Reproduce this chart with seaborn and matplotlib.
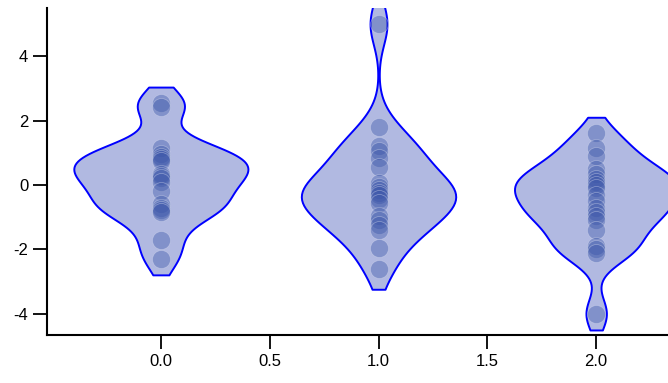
import numpy as np
import pandas as pd
import matplotlib
matplotlib.use("Agg")
import matplotlib.pyplot as plt
import seaborn as sns

# values, one list per group
group0 = [2.55, 2.42, 1.15, 0.95, 0.88, 0.82, 0.75, 0.35, 0.28, 0.22, 0.1,
          -0.2, -0.6, -0.7, -0.78, -0.85, -1.7, -2.3]
group1 = [5.0, 1.8, 1.2, 1.05, 0.85, 0.55, 0.05, -0.05, -0.15, -0.25, -0.3,
          -0.45, -0.55, -0.95, -1.1, -1.25, -1.4, -1.95, -2.6]
group2 = [1.6, 1.15, 0.9, 0.5, 0.35, 0.2, 0.1, 0.0, -0.1, -0.3, -0.5,
          -0.7, -0.85, -0.95, -1.1, -1.4, -1.9, -2.0, -2.1, -4.0]
positions = [0.0, 1.0, 2.0]
xticks = [0.0, 0.5, 1.0, 1.5, 2.0]
yticks = [-4, -2, 0, 2, 4]

rows = []
for pos, vals in zip(positions, [group0, group1, group2]):
    for v in vals:
        rows.append({"x": pos, "y": v})
df = pd.DataFrame(rows)

sns.set_style("ticks")
plt.rcParams['font.family'] = ['Liberation Sans', 'DejaVu Sans']
plt.rcParams['font.size'] = 12
plt.rcParams['axes.unicode_minus'] = False

fig = plt.figure(figsize=(6.68, 3.83), dpi=100)
ax = fig.add_axes([0.0704, 0.1253, 0.9296, 0.854])

sns.violinplot(data=df, x="x", y="y", native_scale=True, inner=None,
               color="#b1b9e1", saturation=1, linecolor="#0000ff",
               linewidth=1.4, cut=1.0, bw_adjust=0.7, width=0.8, ax=ax)
sns.stripplot(data=df, x="x", y="y", native_scale=True, jitter=False,
              size=13, color="#3a55a8", alpha=0.4, edgecolor="#d8ddf0",
              linewidth=0.6, ax=ax)

ax.set_xlim(-0.523, 2.33)
ax.set_ylim(-4.66, 5.5)
ax.set_xticks(xticks)
ax.set_xticklabels(["0.0", "0.5", "1.0", "1.5", "2.0"])
ax.set_yticks(yticks)
ax.set_xlabel("")
ax.set_ylabel("")
sns.despine(ax=ax)
for s in ["left", "bottom"]:
    ax.spines[s].set_linewidth(1.5)
    ax.spines[s].set_color("black")
ax.tick_params(direction="out", length=10, width=1.3, colors="black", labelsize=12)

fig.savefig("out.png", dpi=100)
